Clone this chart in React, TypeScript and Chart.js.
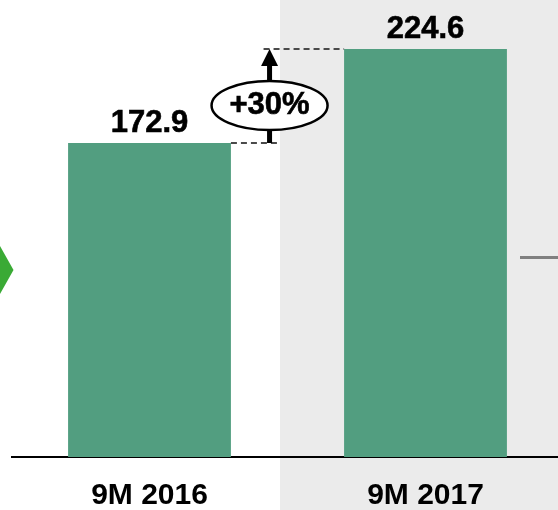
import { useEffect, useRef } from "react";
import { Chart, registerables } from "chart.js";

Chart.register(...registerables);

const categories = ["9M 2016", "9M 2017"];
const values = [172.9, 224.6];
const valueLabels = ["172.9", "224.6"];
const growthLabel = "+30%";
const yMin = 0;
const yMax = 251.6;

const FONT = "'Liberation Sans', Arial, Helvetica, sans-serif";

export default function App() {
  const ref = useRef<HTMLCanvasElement>(null);

  useEffect(() => {
    document.body.style.margin = "0";
    const canvas = ref.current;
    if (!canvas) return;

    const overlay = {
      id: "overlay",
      beforeDraw(chart: any) {
        const { ctx, chartArea } = chart;
        const x = chart.scales.x;
        const p0 = x.getPixelForValue(0);
        const p1 = x.getPixelForValue(1);
        const sx = p0 + (p1 - p0) * 0.473;
        ctx.save();
        ctx.fillStyle = "#ebebeb";
        ctx.fillRect(sx, 0, chart.width - sx, chart.height);
        // left green chevron fragment
        const cy = chartArea.top + 270;
        ctx.fillStyle = "#3aaa35";
        ctx.beginPath();
        ctx.moveTo(0, cy - 24);
        ctx.lineTo(13.5, cy);
        ctx.lineTo(0, cy + 24);
        ctx.closePath();
        ctx.fill();
        // right gray connector fragment
        ctx.fillStyle = "#808080";
        ctx.fillRect(520, chartArea.top + 256, chart.width - 520, 3);
        ctx.restore();
      },
      afterDatasetsDraw(chart: any) {
        const { ctx } = chart;
        const x = chart.scales.x;
        const p0 = x.getPixelForValue(0);
        const p1 = x.getPixelForValue(1);
        const meta = chart.getDatasetMeta(0);
        const b0 = meta.data[0];
        const b1 = meta.data[1];
        ctx.save();
        // value labels
        ctx.font = `bold 31px ${FONT}`;
        ctx.textAlign = "center";
        ctx.textBaseline = "alphabetic";
        ctx.fillStyle = "#000";
        ctx.strokeStyle = "#000";
        ctx.lineWidth = 0.6;
        meta.data.forEach((bar: any, i: number) => {
          ctx.fillText(valueLabels[i], bar.x, bar.y - 11);
          ctx.strokeText(valueLabels[i], bar.x, bar.y - 11);
        });
        const yA = Math.round(b0.y);
        const yB = Math.round(b1.y);
        const right0 = b0.x + b0.width / 2;
        const left1 = b1.x - b1.width / 2;
        const ax = p0 + (p1 - p0) * 0.435;
        // dashed guides
        ctx.setLineDash([6, 4]);
        ctx.strokeStyle = "#4a4a4a";
        ctx.lineWidth = 2;
        ctx.beginPath();
        ctx.moveTo(right0, yA);
        ctx.lineTo(ax + 9, yA);
        ctx.moveTo(ax - 6, yB);
        ctx.lineTo(left1, yB);
        ctx.stroke();
        ctx.setLineDash([]);
        // arrow
        ctx.fillStyle = "#000";
        ctx.fillRect(ax - 2.5, yB + 16, 5, yA - yB - 16);
        ctx.beginPath();
        ctx.moveTo(ax - 8.5, yB + 17);
        ctx.lineTo(ax + 8.5, yB + 17);
        ctx.lineTo(ax, yB);
        ctx.closePath();
        ctx.fill();
        // ellipse badge
        const ey = (yA + yB) / 2 + 9.5;
        ctx.beginPath();
        ctx.ellipse(ax, ey, 58, 24.5, 0, 0, Math.PI * 2);
        ctx.fillStyle = "#fff";
        ctx.fill();
        ctx.lineWidth = 2.5;
        ctx.strokeStyle = "#000";
        ctx.stroke();
        ctx.fillStyle = "#000";
        ctx.font = `bold 31px ${FONT}`;
        ctx.lineWidth = 0.6;
        ctx.fillText(growthLabel, ax, ey + 8);
        ctx.strokeText(growthLabel, ax, ey + 8);
        ctx.restore();
      },
    };

    const chart = new Chart(canvas, {
      type: "bar",
      data: {
        labels: categories,
        datasets: [
          {
            data: values,
            backgroundColor: "#529e80",
            barPercentage: 0.59,
            categoryPercentage: 1,
          },
        ],
      },
      options: {
        animation: false,
        responsive: false,
        devicePixelRatio: 1,
        layout: { padding: { left: 11.5, right: 6.5, top: 0, bottom: 0 } },
        plugins: { legend: { display: false }, tooltip: { enabled: false } },
        scales: {
          x: {
            grid: { display: false, drawTicks: false },
            border: { display: true, color: "#000", width: 2 },
            ticks: {
              color: "#000",
              padding: 24,
              font: { family: FONT, size: 30, weight: "bold", lineHeight: 1 },
            },
          },
          y: { display: false, min: yMin, max: yMax },
        },
      },
      plugins: [overlay],
    } as any);

    return () => chart.destroy();
  }, []);

  return (
    <div style={{ width: 558, height: 510, overflow: "hidden", position: "relative" }}>
      <canvas ref={ref} width={570} height={535} style={{ display: "block", width: 570, height: 535 }} />
    </div>
  );
}
